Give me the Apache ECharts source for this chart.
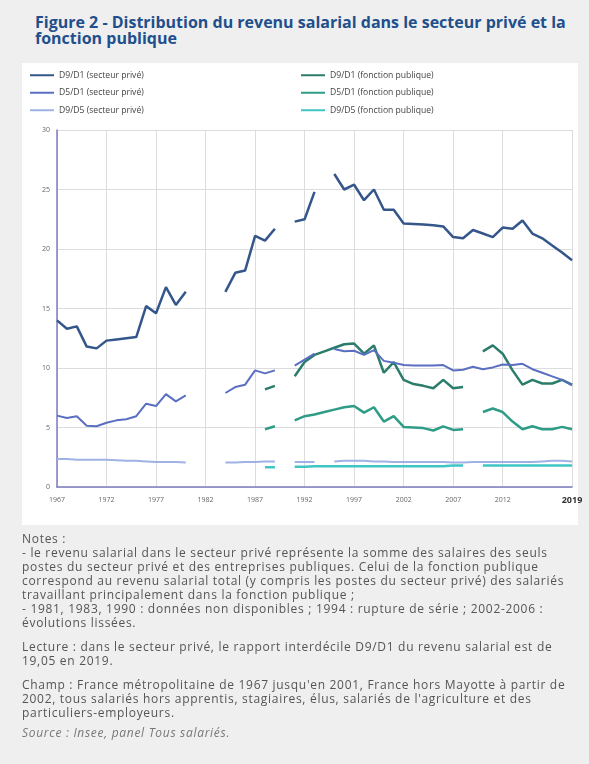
<!DOCTYPE html>
<html>
<head>
<meta charset="utf-8">
<script src="https://cdn.jsdelivr.net/npm/echarts@6/dist/echarts.min.js"></script>
<style>
  body { margin: 0; width: 589px; height: 764px; overflow: hidden; background: #efefef; font-family: "Open Sans", sans-serif; }
  #titre { position: absolute; left: 35px; top: 14px; width: 552px; font-weight: bold; font-size: 16px; line-height: 16px; color: #1f4f8c; white-space: nowrap; }
  #cadre { position: absolute; left: 22px; top: 63px; width: 556px; height: 462px; background: #fff; }
  #graph { position: absolute; left: 0; top: 0; width: 589px; height: 764px; }
  #notes { position: absolute; left: 22px; top: 532px; width: 567px; font-size: 12px; letter-spacing: 0.7px; line-height: 14px; color: #555; white-space: nowrap; }
  #notes p { margin: 0 0 10px 0; }
  #notes p.champ { margin-bottom: 6px; }
  #notes .src { font-style: italic; color: #777; }
</style>
</head>
<body>
<div id="titre">Figure 2 - Distribution du revenu salarial dans le secteur privé et la<br>fonction publique</div>
<div id="cadre"></div>
<div id="graph"></div>
<div id="notes">
  <p>Notes :<br>- le revenu salarial dans le secteur privé représente la somme des salaires des seuls<br>postes du secteur privé et des entreprises publiques. Celui de la fonction publique<br>correspond au revenu salarial total (y compris les postes du secteur privé) des salariés<br>travaillant principalement dans la fonction publique ;<br>- 1981, 1983, 1990 : données non disponibles ; 1994 : rupture de série ; 2002-2006 :<br>évolutions lissées.</p>
  <p>Lecture : dans le secteur privé, le rapport interdécile D9/D1 du revenu salarial est de<br>19,05 en 2019.</p>
  <p class="champ">Champ : France métropolitaine de 1967 jusqu'en 2001, France hors Mayotte à partir de<br>2002, tous salariés hors apprentis, stagiaires, élus, salariés de l'agriculture et des<br>particuliers-employeurs.</p>
  <p class="src">Source : Insee, panel Tous salariés.</p>
</div>
<script>
// années 1967 -> 2019
var annees = [];
for (var a = 1967; a <= 2019; a++) annees.push(String(a));

// secteur privé
var d9d1Prive = [14.0, 13.3, 13.5, 11.8, 11.65, 12.3, 12.4, 12.5, 12.6, 15.2, 14.6, 16.8, 15.3, 16.4,
  null, null, null, 16.4, 18.0, 18.2, 21.1, 20.7, 21.7, null, 22.3, 22.5, 24.8, null,
  26.3, 25.0, 25.4, 24.1, 25.0, 23.3, 23.3, 22.15, 22.1, 22.05, 22.0, 21.9, 21.0, 20.9,
  21.6, 21.3, 21.0, 21.8, 21.7, 22.4, 21.3, 20.9, 20.3, 19.7, 19.05];
var d5d1Prive = [6.0, 5.8, 5.95, 5.15, 5.1, 5.4, 5.6, 5.7, 5.95, 7.0, 6.8, 7.8, 7.2, 7.7,
  null, null, null, 7.9, 8.4, 8.6, 9.8, 9.55, 9.8, null, 10.2, 10.7, 11.2, null,
  11.6, 11.4, 11.45, 11.1, 11.5, 10.6, 10.45, 10.25, 10.2, 10.2, 10.2, 10.25, 9.8, 9.85,
  10.1, 9.9, 10.05, 10.3, 10.25, 10.35, 9.9, 9.6, 9.3, 9.0, 8.55];
var d9d5Prive = [2.35, 2.35, 2.3, 2.3, 2.3, 2.3, 2.25, 2.2, 2.2, 2.15, 2.1, 2.1, 2.1, 2.05,
  null, null, null, 2.05, 2.05, 2.1, 2.1, 2.15, 2.15, null, 2.1, 2.1, 2.1, null,
  2.15, 2.2, 2.2, 2.2, 2.15, 2.15, 2.1, 2.1, 2.1, 2.1, 2.1, 2.1, 2.05, 2.05,
  2.1, 2.1, 2.1, 2.1, 2.1, 2.1, 2.1, 2.15, 2.2, 2.2, 2.15];

// fonction publique
var d9d1Public = [null, null, null, null, null, null, null, null, null, null, null, null, null, null,
  null, null, null, null, null, null, null, 8.2, 8.5, null, 9.3, 10.5, 11.1, 11.4,
  11.7, 12.0, 12.05, 11.2, 11.9, 9.6, 10.5, 9.0, 8.65, 8.5, 8.3, 9.0, 8.3, 8.4,
  null, 11.4, 11.9, 11.2, 9.8, 8.6, 9.0, 8.7, 8.7, 9.0, 8.6];
var d5d1Public = [null, null, null, null, null, null, null, null, null, null, null, null, null, null,
  null, null, null, null, null, null, null, 4.85, 5.1, null, 5.6, 5.95, 6.1, 6.3,
  6.5, 6.7, 6.8, 6.25, 6.7, 5.5, 5.95, 5.05, 5.0, 4.95, 4.75, 5.1, 4.8, 4.85,
  null, 6.3, 6.6, 6.3, 5.5, 4.85, 5.1, 4.85, 4.85, 5.05, 4.85];
var d9d5Public = [null, null, null, null, null, null, null, null, null, null, null, null, null, null,
  null, null, null, null, null, null, null, 1.65, 1.65, null, 1.7, 1.7, 1.75, 1.75,
  1.75, 1.75, 1.75, 1.75, 1.75, 1.75, 1.75, 1.75, 1.75, 1.75, 1.75, 1.75, 1.8, 1.8,
  null, 1.8, 1.8, 1.8, 1.8, 1.8, 1.8, 1.8, 1.8, 1.8, 1.8];

var noms = ['D9/D1 (secteur privé)', 'D5/D1 (secteur privé)', 'D9/D5 (secteur privé)',
  'D9/D1 (fonction publique)', 'D5/D1 (fonction publique)', 'D9/D5 (fonction publique)'];
var couleurs = ['#34568a', '#5a6fc2', '#9fb2e6', '#2b7d6b', '#2e9c86', '#3ec6c4'];
var donnees = [d9d1Prive, d5d1Prive, d9d5Prive, d9d1Public, d5d1Public, d9d5Public];
var epaisseurs = [2.5, 2, 2, 2.5, 2.5, 2.5];

function anneeAffichee(i) {
  var y = 1967 + i;
  return (y <= 2012 && (y - 1967) % 5 === 0) || y === 2019;
}

var graph = echarts.init(document.getElementById('graph'));

var series = [];
for (var i = 0; i < noms.length; i++) {
  series.push({
    name: noms[i],
    type: 'line',
    data: donnees[i],
    showSymbol: false,
    connectNulls: false,
    lineStyle: { width: epaisseurs[i], color: couleurs[i] },
    itemStyle: { color: couleurs[i] },
    z: 10 - i
  });
}

var legendeCommune = {
  orient: 'vertical',
  top: 70,
  padding: 0,
  icon: 'rect',
  itemWidth: 24,
  itemHeight: 2,
  itemGap: 7,
  textStyle: { fontSize: 8.6, color: '#444', lineHeight: 10.5, fontFamily: 'Open Sans' }
};

graph.setOption({
  animation: false,
  grid: { left: 57, right: 17, top: 130, bottom: 277 },
  legend: [
    Object.assign({ left: 30, data: noms.slice(0, 3) }, legendeCommune),
    Object.assign({ left: 301, data: noms.slice(3) }, legendeCommune)
  ],
  xAxis: {
    type: 'category',
    data: annees,
    boundaryGap: false,
    axisLine: { lineStyle: { color: '#7c7cc0', width: 1.5 } },
    axisTick: { show: false },
    axisLabel: {
      interval: anneeAffichee,
      fontSize: 7,
      color: '#666',
      margin: 9,
      fontFamily: 'Open Sans',
      formatter: function (v) { return v === '2019' ? '{b|' + v + '}' : v; },
      rich: { b: { fontSize: 9, fontWeight: 'bold', color: '#333', fontFamily: 'Open Sans' } }
    },
    splitLine: { show: true, interval: anneeAffichee, lineStyle: { color: '#dcdcdc' } }
  },
  yAxis: {
    type: 'value',
    min: 0,
    max: 30,
    interval: 5,
    axisLine: { show: true, lineStyle: { color: '#7c7cc0', width: 1.5 } },
    axisTick: { show: false },
    axisLabel: { fontSize: 7, color: '#666', margin: 7, fontFamily: 'Open Sans' },
    splitLine: { lineStyle: { color: '#dcdcdc' } }
  },
  series: series
});
</script>
</body>
</html>
